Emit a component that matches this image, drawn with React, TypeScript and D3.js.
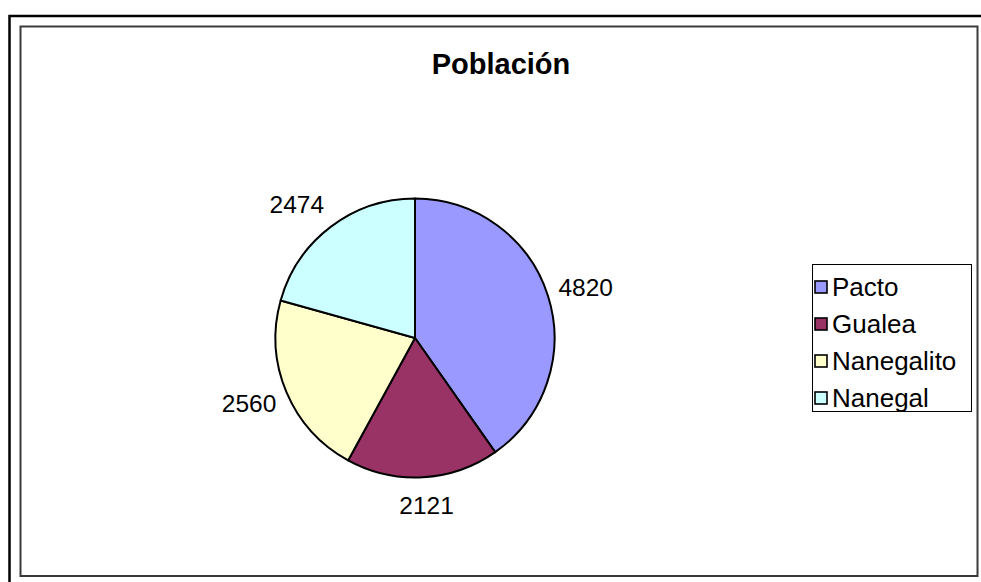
import React, { useEffect, useRef } from "react";
import * as d3 from "d3";

const categories = ["Pacto", "Gualea", "Nanegalito", "Nanegal"];
const values = [4820, 2121, 2560, 2474];
const colors = ["#9999FF", "#993366", "#FFFFCC", "#CCFFFF"];
const title = "Población";

const W = 981;
const H = 582;

export default function App() {
  const ref = useRef<SVGSVGElement | null>(null);

  useEffect(() => {
    const svg = d3.select(ref.current);
    svg.selectAll("*").remove();
    const font = "'Liberation Sans', Arial, sans-serif";

    // outer frame (partially out of view)
    svg.append("rect").attr("x", 9.5).attr("y", 16).attr("width", 1100).attr("height", 700)
      .attr("fill", "none").attr("stroke", "#000").attr("stroke-width", 2.5);

    // chart area box
    svg.append("rect").attr("x", 20.5).attr("y", 26.5).attr("width", 957).attr("height", 549.5)
      .attr("fill", "#fff").attr("stroke", "#3a3a3a").attr("stroke-width", 2);

    svg.append("text").attr("x", 501).attr("y", 74).attr("text-anchor", "middle")
      .attr("font-family", font).attr("font-weight", "bold").attr("font-size", 29)
      .text(title);

    const cx = 415, cy = 338, r = 139.5;
    const pie = d3.pie<number>().sort(null).value((d) => d);
    const arcs = pie(values);
    const arc = d3.arc<d3.PieArcDatum<number>>().innerRadius(0).outerRadius(r);

    const g = svg.append("g").attr("transform", `translate(${cx},${cy})`);
    g.selectAll("path").data(arcs).enter().append("path")
      .attr("d", arc as any)
      .attr("fill", (_d, i) => colors[i])
      .attr("stroke", "#000").attr("stroke-width", 2).attr("stroke-linejoin", "round");

    const fs = 24.5;
    const gap = 11;
    const hh = 17;
    arcs.forEach((a) => {
      const mid = (a.startAngle + a.endAngle) / 2;
      const dx = Math.sin(mid), dy = -Math.cos(mid);
      const label = String(a.data);
      const w = label.length * 0.556 * fs;
      const fx = Math.sign(dx) * Math.min(1, Math.abs(dx) / 0.5);
      const x = dx * (r + gap) + fx * (w / 2);
      const y = dy * (r + gap) + dy * hh;
      g.append("text").attr("x", x).attr("y", y + fs * 0.35).attr("text-anchor", "middle")
        .attr("font-family", font).attr("font-size", fs).attr("fill", "#000").text(label);
    });

    // legend
    const lx = 812, ly = 264, lw = 159, lh = 147;
    svg.append("rect").attr("x", lx + 0.5).attr("y", ly + 0.5).attr("width", lw).attr("height", lh)
      .attr("fill", "#fff").attr("stroke", "#000").attr("stroke-width", 1);
    const rowY = d3.scalePoint<string>().domain(categories).range([ly + 23, ly + 134]);
    categories.forEach((c, i) => {
      const y = rowY(c)!;
      svg.append("rect").attr("x", lx + 3).attr("y", y - 6).attr("width", 12).attr("height", 12)
        .attr("fill", colors[i]).attr("stroke", "#000").attr("stroke-width", 1.6);
      svg.append("text").attr("x", lx + 20).attr("y", y + 9).attr("font-family", font)
        .attr("font-size", 26).attr("fill", "#000").text(c);
    });
  }, []);

  return (
    <svg ref={ref} width={W} height={H}
      style={{ position: "absolute", left: 0, top: 0, background: "#fff" }} />
  );
}
